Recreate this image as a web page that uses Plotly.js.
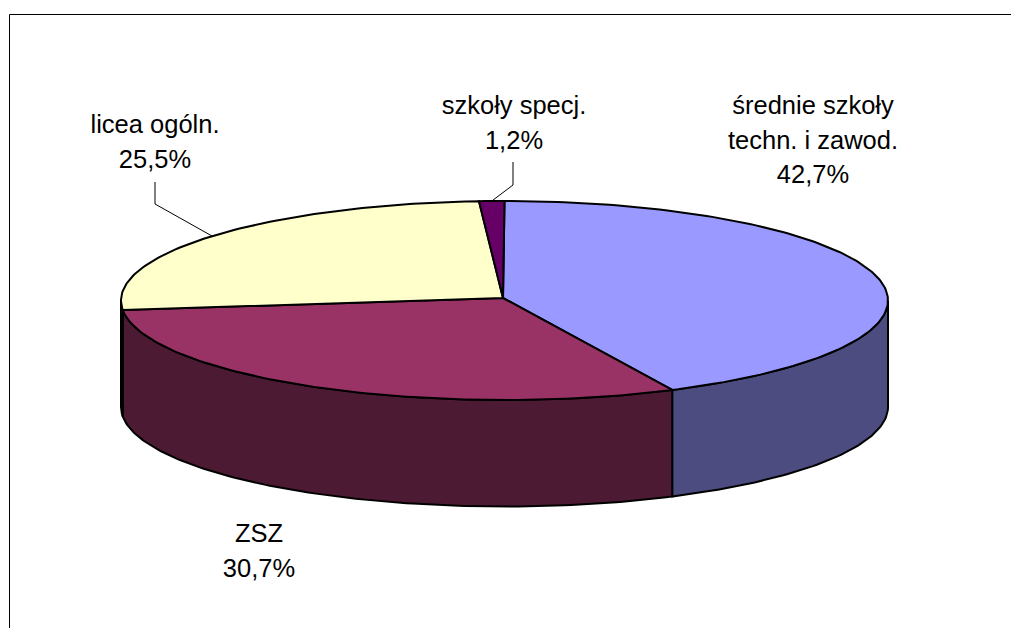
<!DOCTYPE html>
<html>
<head>
<meta charset="utf-8">
<script src="https://cdn.plot.ly/plotly-3.0.1.min.js"></script>
<style>html,body{margin:0;padding:0;background:#fff;overflow:hidden}#chart{width:1011px;height:628px}</style>
</head>
<body>
<div id="chart"></div>
<script>
// Data, clockwise from 12 o'clock
const categories = ['średnie szkoły techn. i zawod.', 'ZSZ', 'licea ogóln.', 'szkoły specj.'];
const shares = [42.7, 30.7, 25.5, 1.2];
const shareLabels = ['42,7%', '30,7%', '25,5%', '1,2%'];
const labelLines = [['średnie szkoły', 'techn. i zawod.'], ['ZSZ'], ['licea ogóln.'], ['szkoły specj.']];

// Colours
const topColors = ['#9999FF', '#993366', '#FFFFCC', '#660066'];
const sideColors = ['#4C4C80', '#4C1A33', '#80806A', '#330033'];

// Pie geometry (pixel space of the hidden axes)
const W = 1011, H = 628;
const cx = 504.5, cy = 300.5, rx = 383.5, ry = 99.5, depth = 106.5, apexY = 298;
const ex = t => cx + rx * Math.sin(t);
const ey = t => cy - ry * Math.cos(t);
const rad = d => d * Math.PI / 180;

const total = shares.reduce((a, b) => a + b, 0);
const nudge = rad(0.5); // inner boundaries sit slightly clockwise in the projection
let acc = 0;
const slices = shares.map((v, i) => {
  const a0 = acc / total * 2 * Math.PI + (i > 0 ? nudge : 0);
  acc += v;
  const a1 = acc / total * 2 * Math.PI + (i < shares.length - 1 ? nudge : 0);
  return [a0, a1];
});

function arc(a0, a1) {
  const n = Math.max(2, Math.ceil((a1 - a0) / rad(1)));
  const ts = [];
  for (let i = 0; i <= n; i++) ts.push(a0 + (a1 - a0) * i / n);
  return ts;
}
const poly = (x, y, fill) => ({
  x, y, type: 'scatter', mode: 'lines', fill: 'toself', fillcolor: fill,
  line: {color: '#000', width: 2, shape: 'linear'}, hoverinfo: 'skip', showlegend: false
});
const traces = [];

// Side walls: only the front half of the rim is visible
slices.forEach(([a0, a1], i) => {
  const s = Math.max(a0, rad(90)), e = Math.min(a1, rad(270));
  if (e <= s) return;
  const ts = arc(s, e);
  const x = ts.map(ex).concat(ts.slice().reverse().map(ex));
  const y = ts.map(ey).concat(ts.slice().reverse().map(t => ey(t) + depth));
  x.push(x[0]); y.push(y[0]);
  traces.push(poly(x, y, sideColors[i]));
});

// Top faces
slices.forEach(([a0, a1], i) => {
  const ts = arc(a0, a1);
  const x = [cx - 1.5].concat(ts.map(ex), [cx - 1.5]);
  const y = [apexY].concat(ts.map(ey), [apexY]);
  traces.push(poly(x, y, topColors[i]));
});

// Leader lines start from the middle of their slice's rim
const mid = i => (slices[i][0] + slices[i][1]) / 2;
const leader = (x, y) => ({
  x, y, type: 'scatter', mode: 'lines', line: {color: '#000', width: 1},
  hoverinfo: 'skip', showlegend: false
});
traces.push(leader([ex(mid(2)), 155, 155], [ey(mid(2)), 204, 182]));
traces.push(leader([ex(mid(3)), 513, 513], [ey(mid(3)), 185, 162]));

// Labels
const labelAnchor = [[813, 108], [259, 536], [155, 127], [514, 108]];
const lineGap = 34.5;
const tx = [], ty = [], tt = [];
categories.forEach((c, i) => {
  labelLines[i].concat(shareLabels[i]).forEach((s, k) => {
    tx.push(labelAnchor[i][0]);
    ty.push(labelAnchor[i][1] + k * lineGap);
    tt.push(s);
  });
});
traces.push({
  x: tx, y: ty, text: tt, type: 'scatter', mode: 'text', textposition: 'middle center',
  textfont: {family: '"Liberation Sans", Arial, sans-serif', size: 25.5, color: '#000'},
  hoverinfo: 'skip', showlegend: false
});

const hidden = {visible: false, fixedrange: true};
const layout = {
  width: W, height: H,
  margin: {l: 0, r: 0, t: 0, b: 0},
  paper_bgcolor: '#fff', plot_bgcolor: '#fff',
  xaxis: Object.assign({range: [0, W]}, hidden),
  yaxis: Object.assign({range: [H, 0]}, hidden),
  showlegend: false,
  shapes: [{
    type: 'path', xref: 'x', yref: 'y',
    path: `M 9.5 ${H} L 9.5 14.5 L ${W} 14.5`,
    line: {color: '#000', width: 1}
  }]
};
Plotly.newPlot('chart', traces, layout, {displayModeBar: false, staticPlot: true});
</script>
</body>
</html>
